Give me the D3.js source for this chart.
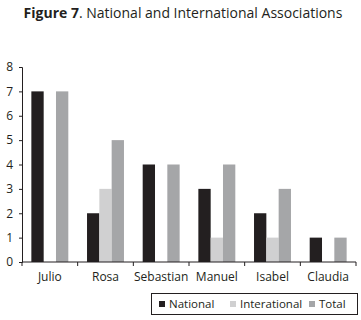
<!DOCTYPE html>
<html>
<head>
<meta charset="utf-8">
<script src="https://cdn.jsdelivr.net/npm/d3@7"></script>
<style>
  body { margin: 0; background: #fff; }
  svg { display: block; font-family: "Open Sans", sans-serif; }
</style>
</head>
<body>
<div id="chart"></div>
<script>
'use strict';

// Chart data
const names = ['Julio', 'Rosa', 'Sebastian', 'Manuel', 'Isabel', 'Claudia'];
const series = ['National', 'Interational', 'Total'];
const national = [7, 2, 4, 3, 2, 1];
const international = [0, 3, 0, 1, 1, 0];
const total = [7, 5, 4, 4, 3, 1];
const yTicks = [0, 1, 2, 3, 4, 5, 6, 7, 8];
const colors = ['#231f20', '#d0d0d1', '#a5a6a8'];

const width = 361, height = 320;
const margin = { top: 67, right: 5, bottom: 58, left: 22 };

const svg = d3.select('#chart')
    .append('svg')
    .attr('width', width)
    .attr('height', height);

// Title
const title = svg.append('text')
    .attr('x', 183)
    .attr('y', 18)
    .attr('text-anchor', 'middle')
    .attr('font-size', 14)
    .attr('fill', '#231f20');
title.append('tspan').attr('font-weight', 'bold').text('Figure 7');
title.append('tspan').text('. National and International Associations');

// Scales
const x0 = d3.scaleBand()
    .domain(names)
    .range([margin.left, width - margin.right])
    .padding(0);

const x1 = d3.scaleBand()
    .domain(series)
    .range([0, x0.bandwidth()])
    .paddingInner(0)
    .paddingOuter(0.76);

const y = d3.scaleLinear()
    .domain([0, 8])
    .range([height - margin.bottom, margin.top]);

const rows = names.map((n, i) => ({
    name: n,
    values: [national[i], international[i], total[i]]
}));

// Bars
const groups = svg.append('g')
    .selectAll('g')
    .data(rows)
    .join('g')
    .attr('transform', d => `translate(${x0(d.name)},0)`);

groups.selectAll('rect')
    .data(d => d.values.map((v, j) => ({ key: series[j], v: v, c: colors[j] })))
    .join('rect')
    .attr('x', d => x1(d.key))
    .attr('width', x1.bandwidth())
    .attr('y', d => y(d.v))
    .attr('height', d => y(0) - y(d.v))
    .attr('fill', d => d.c);

// Y axis
const yAxis = svg.append('g')
    .attr('transform', `translate(${margin.left},0)`)
    .call(d3.axisLeft(y).tickValues(yTicks).tickSize(3).tickPadding(6));
yAxis.select('.domain').attr('stroke', '#231f20');
yAxis.selectAll('.tick line').attr('stroke', '#231f20');
yAxis.selectAll('.tick text')
    .attr('font-size', 12)
    .attr('fill', '#231f20')
    .style('font-family', '"Open Sans", sans-serif');

// X axis (ticks sit on band boundaries)
const xAxis = svg.append('g')
    .attr('transform', `translate(0,${y(0)})`);
xAxis.append('line')
    .attr('x1', margin.left)
    .attr('x2', width - margin.right)
    .attr('stroke', '#231f20');
const bounds = names.map(n => x0(n)).concat([x0(names[names.length - 1]) + x0.bandwidth()]);
xAxis.selectAll('line.tk')
    .data(bounds)
    .join('line')
    .attr('class', 'tk')
    .attr('x1', d => d)
    .attr('x2', d => d)
    .attr('y1', 0)
    .attr('y2', 4)
    .attr('stroke', '#231f20');
xAxis.selectAll('text')
    .data(names)
    .join('text')
    .attr('x', d => x0(d) + x0.bandwidth() / 2)
    .attr('y', 19)
    .attr('text-anchor', 'middle')
    .attr('font-size', 12)
    .attr('fill', '#231f20')
    .text(d => d);

// Legend
const legend = svg.append('g');
legend.append('rect')
    .attr('x', 151.5)
    .attr('y', 293.5)
    .attr('width', 206)
    .attr('height', 21)
    .attr('fill', 'none')
    .attr('stroke', '#231f20');

const legendX = [159, 230, 309];
const items = legend.selectAll('g')
    .data(series)
    .join('g')
    .attr('transform', (d, i) => `translate(${legendX[i]},304)`);
items.append('rect')
    .attr('x', 0)
    .attr('y', -3)
    .attr('width', 6)
    .attr('height', 6)
    .attr('fill', (d, i) => colors[i]);
items.append('text')
    .attr('x', 10)
    .attr('y', 4)
    .attr('font-size', 11.5)
    .attr('fill', '#231f20')
    .text(d => d);
</script>
</body>
</html>
